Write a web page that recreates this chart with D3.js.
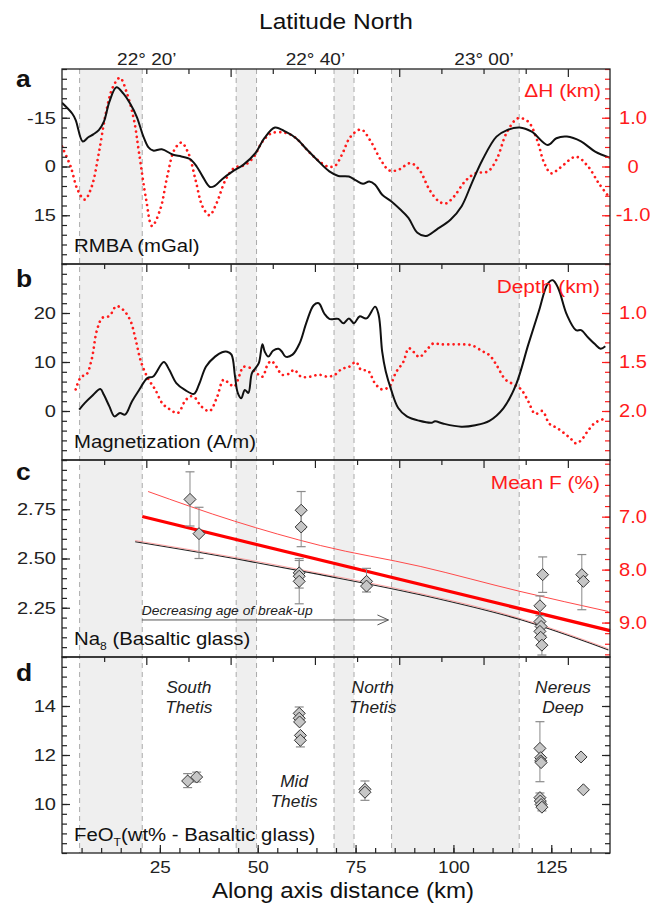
<!DOCTYPE html>
<html>
<head>
<meta charset="utf-8">
<script src="https://cdn.jsdelivr.net/npm/d3@7"></script>
<style>
  body { margin: 0; background: #fff; }
  svg { display: block; font-family: "Liberation Sans", Arial, sans-serif; }
</style>
</head>
<body>
<svg id="chart" width="654" height="905"></svg>
<script>
// ---- data ----
// grey segments along axis (km)
var bandStart = [4.5, 44.5, 69.5, 84.2];
var bandEnd   = [20.5, 49.7, 74.6, 116.8];

// panel a : RMBA (mGal) and dH (km)
var rmbaKm  = [0, 2.6, 3.5, 5.3, 6.7, 8.0, 9.4, 10.7, 12.1, 13.9, 15.7, 17.4, 19.1, 20.8, 22.1, 23.3, 25.5, 28.4, 30.5, 32.7, 34.4, 35.8, 37.8, 39.1, 40.9, 43.6, 46.3, 49.4, 51.7, 54.4, 57.1, 59.8, 62.5, 65.2, 68.3, 70.6, 73.3, 75.1, 76.9, 78.5, 80.0, 81.8, 84.1, 86.3, 88.5, 90.8, 93.0, 95.7, 99.3, 102.1, 104.7, 107.4, 111.0, 113.7, 116.9, 120.0, 124.1, 126.3, 129.0, 132.6, 136.2, 140];
var rmbaVal = [-19.6, -16.3, -14.3, -7.7, -9.0, -9.9, -11.2, -13.8, -19.9, -24.4, -22.4, -19.4, -15.3, -9.2, -5.9, -4.9, -5.3, -3.6, -3.1, -2.3, 0, 2.8, 6.3, 5.9, 3.9, 1.5, -0.5, -4.1, -8.7, -12.0, -10.7, -8.7, -5.3, -2.0, 1.5, 2.9, 3.1, 4.3, 5.3, 4.6, 5.6, 8.7, 10.7, 13.1, 15.8, 20.4, 21.4, 19.4, 16.3, 12.2, 5.1, -2.0, -9.2, -11.2, -12.0, -10.7, -6.6, -8.7, -9.2, -7.7, -4.6, -2.7];
var dhKm  = [0, 2.2, 4.0, 5.8, 7.6, 9.4, 11.2, 13.0, 14.8, 16.6, 18.4, 19.7, 21.5, 23.0, 25.1, 26.9, 28.7, 30.5, 32.3, 34.1, 35.9, 37.7, 39.5, 41.8, 44.0, 46.7, 49.0, 51.2, 53.5, 57.1, 59.8, 62.5, 65.2, 67.9, 69.7, 71.5, 73.7, 76.4, 78.7, 81.4, 83.6, 85.9, 89.0, 91.3, 93.9, 96.2, 98.0, 100.2, 102.9, 105.6, 108.8, 111.0, 113.7, 116.5, 119.1, 121.4, 123.2, 125.0, 127.2, 131.3, 134.4, 137.1, 139.6];
var dhVal = [0.41, 0, -0.48, -0.68, -0.41, 0.27, 1.09, 1.63, 1.82, 1.50, 0.95, 0.27, -0.68, -1.22, -0.88, -0.20, 0.34, 0.49, 0.27, -0.27, -0.82, -1.0, -0.75, -0.27, -0.03, 0.03, 0.20, 0.51, 0.68, 0.69, 0.58, 0.35, 0.14, 0, 0.01, 0.24, 0.61, 0.76, 0.54, 0.14, -0.08, -0.07, 0.07, -0.07, -0.48, -0.71, -0.76, -0.61, -0.31, -0.14, -0.10, 0.14, 0.71, 0.99, 0.92, 0.54, 0.07, -0.14, -0.03, 0.20, 0, -0.34, -0.61];

// panel b : magnetization (A/m) and depth (km)
var magKm  = [4.4, 5.8, 7.6, 9.8, 10.7, 12.1, 13.4, 14.8, 16.1, 17.9, 19.7, 21.8, 23.3, 26.0, 27.4, 29.2, 31.4, 33.7, 35.0, 36.8, 39.1, 40.9, 42.2, 43.3, 44.2, 44.9, 45.8, 46.7, 47.6, 48.5, 49.4, 50.3, 51.2, 51.8, 52.7, 53.9, 55.3, 56.2, 57.1, 58.9, 60.7, 62.5, 64.3, 65.6, 67.0, 68.3, 70.6, 71.9, 73.3, 74.6, 76.0, 77.8, 80.0, 80.9, 81.8, 82.7, 84.1, 85.9, 88.1, 91.3, 94.4, 95.3, 97.5, 102.0, 105.6, 109.2, 112.8, 116.0, 119.1, 121.8, 124.1, 125.4, 126.8, 129.0, 131.3, 132.6, 134.4, 136.2, 137.6, 138.8];
var magVal = [0.3, 1.6, 3.0, 4.5, 3.3, 0.95, -1.1, -0.4, -0.75, 2.0, 4.3, 6.7, 7.05, 10.0, 8.4, 5.7, 4.3, 3.5, 5.4, 9.1, 11.1, 12.0, 12.1, 11.5, 7.05, 3.7, 2.6, 4.3, 3.7, 7.7, 8.7, 9.8, 13.6, 12.1, 11.1, 12.3, 12.7, 12.1, 11.1, 11.5, 13.8, 18.2, 21.6, 22.0, 19.9, 18.8, 18.8, 17.9, 18.9, 17.9, 19.3, 18.9, 21.3, 19.6, 12.1, 8.1, 4.3, 0.6, -1.1, -2.0, -2.4, -2.1, -2.6, -3.2, -2.9, -2.0, 0.6, 5.4, 13.5, 20.3, 26.0, 26.7, 25.0, 19.6, 16.5, 16.5, 15.0, 13.6, 12.7, 13.2];
var depthKm  = [3.5, 4.9, 6.2, 7.6, 8.9, 10.3, 12.1, 13.9, 15.7, 17.5, 18.8, 20.2, 22.0, 23.8, 25.6, 27.4, 29.6, 31.4, 32.8, 34.1, 35.5, 37.7, 39.5, 41.3, 42.7, 44.0, 45.4, 46.3, 48.1, 49.9, 51.2, 52.6, 53.5, 54.8, 56.2, 58.0, 59.3, 61.1, 63.4, 65.6, 67.9, 69.7, 71.5, 73.3, 75.1, 76.4, 78.2, 80.0, 81.8, 83.6, 85.4, 87.2, 88.6, 89.9, 91.3, 93.1, 94.9, 96.7, 99.3, 102.0, 104.7, 107.4, 109.2, 111.0, 113.3, 115.5, 117.3, 119.1, 120.9, 122.7, 124.5, 126.3, 128.1, 129.9, 131.3, 132.6, 134.4, 136.2, 138.5];
var depthVal = [1.78, 1.65, 1.63, 1.47, 1.18, 1.05, 1.03, 0.93, 0.97, 1.08, 1.27, 1.5, 1.67, 1.78, 1.92, 1.98, 2.02, 1.9, 1.85, 1.87, 1.95, 2.0, 1.87, 1.68, 1.72, 1.75, 1.63, 1.55, 1.56, 1.62, 1.65, 1.52, 1.49, 1.55, 1.63, 1.62, 1.58, 1.65, 1.65, 1.63, 1.65, 1.63, 1.57, 1.55, 1.5, 1.58, 1.59, 1.72, 1.78, 1.75, 1.6, 1.5, 1.36, 1.4, 1.45, 1.38, 1.31, 1.32, 1.32, 1.32, 1.33, 1.39, 1.43, 1.53, 1.68, 1.73, 1.78, 1.9, 2.03, 2.0, 2.13, 2.17, 2.22, 2.28, 2.33, 2.3, 2.2, 2.12, 2.08];

// panel c : Na8 samples (value, error-bar low, error-bar high; null = no bar)
var naKm  = [32.7, 35.0, 61.1, 61.1, 60.6, 60.6, 60.6, 77.8, 77.8, 122.8, 122.1, 122.1, 122.4, 122.1, 122.3, 122.6, 132.8, 133.2];
var naVal = [2.80, 2.626, 2.745, 2.66, 2.427, 2.41, 2.384, 2.384, 2.36, 2.418, 2.26, 2.18, 2.155, 2.13, 2.10, 2.06, 2.418, 2.384];
var naLo  = [2.665, 2.50, 2.65, 2.56, 2.35, null, 2.27, 2.33, null, 2.328, 2.21, null, null, null, null, 2.01, 2.24, null];
var naHi  = [2.94, 2.76, 2.84, 2.75, 2.50, null, 2.49, 2.45, null, 2.508, 2.31, null, null, null, null, 2.11, 2.52, null];
// regression of mean F on distance and its confidence envelope
var fitKm  = [20.5, 140];
var fitVal = [2.713, 2.134];
var upperKm  = [22, 44, 66, 91.5, 117, 139.6];
var upperVal = [2.84, 2.69, 2.566, 2.46, 2.333, 2.231];
var lowerKm  = [18.7, 44, 66, 91.5, 117, 139.6];
var lowerVal = [2.585, 2.50, 2.418, 2.316, 2.19, 2.036];
var arrowKm = [20.4, 83.4];
var arrowNa = 2.188;

// panel d : FeOT samples
var feKm  = [32.1, 34.4, 60.6, 60.6, 60.7, 60.9, 60.9, 77.4, 77.4, 122.1, 122.3, 122.3, 122.4, 122.1, 122.2, 122.4, 122.6, 132.6, 133.2];
var feVal = [10.94, 11.1, 13.7, 13.5, 13.35, 12.8, 12.6, 10.6, 10.48, 12.27, 11.89, 11.76, 11.69, 10.26, 10.12, 9.98, 9.87, 11.92, 10.58];
var feLo  = [10.67, 10.9, 13.45, null, null, null, 12.33, 10.15, null, 10.91, null, null, null, 10.0, null, null, 9.72, null, null];
var feHi  = [11.24, 11.3, 13.96, null, null, null, 12.85, 10.94, null, 13.36, null, null, null, 10.45, null, null, 10.05, null, null];
var regionName = [["South", "Thetis"], ["Mid", "Thetis"], ["North", "Thetis"], ["Nereus", "Deep"]];
var regionKm   = [32.4, 59.3, 79.4, 128.0];
var regionFe   = [14.53, 10.7, 14.53, 14.53];

// tick labels
var latTicks  = [1340, 1360, 1380];               // minutes after 0 deg
var latLabels = ["22\u00b0 20\u2019", "22\u00b0 40\u2019", "23\u00b0 00\u2019"];
var kmTicks = [25, 50, 75, 100, 125];

// ---- layout ----
var svg = d3.select("#chart");
var red = "#ff1a1a";
var tops = [69, 264, 460, 657], bots = [264, 460, 657, 853];

var x = d3.scaleLinear().domain([0, 140]).range([62, 610]);
var lat = d3.scaleLinear().domain([1330, 1395]).range([62, 610]);

var yA  = d3.scaleLinear().domain([-30, 30]).range([69, 264]);
var yA2 = d3.scaleLinear().domain([2, -2]).range([69, 264]);
var yB  = d3.scaleLinear().domain([30, -10]).range([264, 460]);
var yB2 = d3.scaleLinear().domain([0.5, 2.5]).range([264, 460]);
var yC  = d3.scaleLinear().domain([3, 2]).range([460, 657]);
var yC2 = d3.scaleLinear().domain([5.93, 9.65]).range([460, 657]);
var yD  = d3.scaleLinear().domain([16, 8]).range([657, 853]);

var zip = function (a, b) { return a.map(function (v, i) { return [v, b[i]]; }); };
// plain hyphen for negatives, as in the figure
var fmt = function (spec) { var f = d3.format(spec); return function (d) { return f(d).replace("\u2212", "-"); }; };

// clip paths per panel
var defs = svg.append("defs");
tops.forEach(function (t, i) {
  defs.append("clipPath").attr("id", "clip" + i)
    .append("rect").attr("x", 62).attr("y", t).attr("width", 548).attr("height", bots[i] - t);
});

// grey bands + dashed edges
svg.append("g").selectAll("rect")
  .data(zip(bandStart, bandEnd))
  .join("rect")
  .attr("x", function (d) { return x(d[0]); })
  .attr("width", function (d) { return x(d[1]) - x(d[0]); })
  .attr("y", 69).attr("height", 853 - 69)
  .attr("fill", "#efefef");
svg.append("g").selectAll("line")
  .data(bandStart.concat(bandEnd))
  .join("line")
  .attr("x1", function (d) { return x(d); }).attr("x2", function (d) { return x(d); })
  .attr("y1", 69).attr("y2", 853)
  .attr("stroke", "#aaa").attr("stroke-width", 1).attr("stroke-dasharray", "5,4");

// ---- curves ----
function curve(panel, data, ys, dotted, width) {
  var ln = d3.line().x(function (d) { return x(d[0]); }).y(function (d) { return ys(d[1]); })
    .curve(d3.curveCatmullRom.alpha(0.5));
  var p = svg.append("path").attr("clip-path", "url(#clip" + panel + ")")
    .attr("d", ln(data)).attr("fill", "none");
  if (dotted) {
    p.attr("stroke", red).attr("stroke-width", 2.7)
      .attr("stroke-linecap", "round").attr("stroke-dasharray", "0.01 5.3");
  } else {
    p.attr("stroke", "#111").attr("stroke-width", width || 2);
  }
  return p;
}
curve(0, zip(dhKm, dhVal), yA2, true);
curve(0, zip(rmbaKm, rmbaVal), yA, false);
curve(1, zip(depthKm, depthVal), yB2, true);
curve(1, zip(magKm, magVal), yB, false);

// panel c regression lines
var straight = d3.line().x(function (d) { return x(d[0]); }).y(function (d) { return yC(d[1]); });
var bent = d3.line().x(function (d) { return x(d[0]); }).y(function (d) { return yC(d[1]); }).curve(d3.curveMonotoneX);
svg.append("path").attr("d", bent(zip(upperKm, upperVal))).attr("fill", "none")
  .attr("stroke", "#ff4a4a").attr("stroke-width", 1);
svg.append("path").attr("d", bent(zip(lowerKm, lowerVal))).attr("fill", "none")
  .attr("stroke", "#222").attr("stroke-width", 1.1);
svg.append("path").attr("d", bent(zip(lowerKm, lowerVal.map(function (v) { return v + 0.006; })))).attr("fill", "none")
  .attr("stroke", "#ff6a6a").attr("stroke-width", 0.6);
svg.append("path").attr("d", straight(zip(fitKm, fitVal))).attr("fill", "none")
  .attr("stroke", "#ff0000").attr("stroke-width", 3.2);

// arrow
var ay = yC(arrowNa);
svg.append("line").attr("x1", x(arrowKm[0])).attr("x2", x(arrowKm[1])).attr("y1", ay).attr("y2", ay)
  .attr("stroke", "#555").attr("stroke-width", 1);
svg.append("path")
  .attr("d", "M" + (x(arrowKm[1]) - 11) + "," + (ay - 5) + "L" + x(arrowKm[1]) + "," + ay + "L" + (x(arrowKm[1]) - 11) + "," + (ay + 5))
  .attr("fill", "none").attr("stroke", "#555").attr("stroke-width", 1);

// ---- samples with error bars ----
function samples(km, val, lo, hi, ys) {
  var g = svg.append("g");
  km.forEach(function (k, i) {
    if (lo[i] === null) return;
    var cx = x(k);
    g.append("line").attr("x1", cx).attr("x2", cx).attr("y1", ys(lo[i])).attr("y2", ys(hi[i]))
      .attr("stroke", "#8a8a8a").attr("stroke-width", 1);
    [lo[i], hi[i]].forEach(function (v) {
      g.append("line").attr("x1", cx - 4.5).attr("x2", cx + 4.5).attr("y1", ys(v)).attr("y2", ys(v))
        .attr("stroke", "#8a8a8a").attr("stroke-width", 1.2);
    });
  });
  g.selectAll("path.pt")
    .data(zip(km, val))
    .join("path").attr("class", "pt")
    .attr("d", function (d) {
      var cx = x(d[0]), cy = ys(d[1]), r = 6;
      return "M" + cx + "," + (cy - r) + "L" + (cx + r) + "," + cy + "L" + cx + "," + (cy + r) + "L" + (cx - r) + "," + cy + "Z";
    })
    .attr("fill", "#c6c6c6").attr("stroke", "#333").attr("stroke-width", 1);
}
samples(naKm, naVal, naLo, naHi, yC);
samples(feKm, feVal, feLo, feHi, yD);

// ---- text helper (the figure's type is a little wide) ----
function label(str, px, py, o) {
  o = o || {};
  var t = svg.append("text")
    .attr("transform", "translate(" + px + "," + py + ") scale(" + (o.sx || 1.1) + ",1)")
    .attr("text-anchor", o.anchor || "start")
    .attr("font-size", o.size || 19)
    .attr("fill", o.fill || "#111");
  if (o.italic) t.attr("font-style", "italic");
  if (o.bold) t.attr("font-weight", "bold");
  if (str !== null) t.text(str);
  return t;
}

// ---- axes ----
function styleAxis(g, color) {
  g.select(".domain").remove();
  g.selectAll("line").attr("stroke", color).attr("stroke-width", 1.2);
  g.selectAll("text").attr("fill", color)
    .attr("font-family", "Liberation Sans, Arial, sans-serif");
}
function leftAxis(scale, major, minor, f) {
  var gm = svg.append("g").attr("transform", "translate(62,0)")
    .call(d3.axisLeft(scale).tickValues(minor).tickSize(-5).tickFormat(""));
  styleAxis(gm, "#222");
  var g = svg.append("g").attr("transform", "translate(62,0)")
    .call(d3.axisLeft(scale).tickValues(major).tickSize(-8).tickPadding(6).tickFormat(f));
  styleAxis(g, "#222");
  g.selectAll("text").attr("font-size", 17).attr("x", 0)
    .attr("transform", "translate(-6,0) scale(1.18,1)");
}
function rightAxis(scale, major, minor, f, color, labels) {
  var gm = svg.append("g").attr("transform", "translate(610,0)")
    .call(d3.axisRight(scale).tickValues(minor).tickSize(-5).tickFormat(""));
  styleAxis(gm, color);
  var g = svg.append("g").attr("transform", "translate(610,0)")
    .call(d3.axisRight(scale).tickValues(major).tickSize(-8).tickFormat(labels ? f : ""));
  styleAxis(g, color);
  g.selectAll("text").attr("font-size", 17.5).attr("x", 0).attr("text-anchor", "middle")
    .attr("transform", "translate(23,0) scale(1.15,1)");
}
function steps(a, b, s) { return d3.range(Math.round((b - a) / s) + 1).map(function (i) { return +(a + i * s).toFixed(3); }); }

leftAxis(yA, [-15, 0, 15], steps(-30, 30, 3), fmt("d"));
rightAxis(yA2, [-1, 0, 1], steps(-2, 2, 0.2), function (d) { return d === 0 ? "0" : fmt(".1f")(d); }, red, true);
leftAxis(yB, [0, 10, 20], steps(-10, 30, 2), fmt("d"));
rightAxis(yB2, [1, 1.5, 2], steps(0.5, 2.5, 0.1), fmt(".1f"), red, true);
leftAxis(yC, [2.25, 2.5, 2.75], steps(2, 3, 0.05), fmt(".2f"));
rightAxis(yC2, [7, 8, 9], steps(6, 9.6, 0.2), fmt(".1f"), red, true);
leftAxis(yD, [10, 12, 14], steps(8, 16, 0.4), fmt("d"));
rightAxis(yD, [10, 12, 14], steps(8, 16, 0.4), fmt("d"), "#222", false);

// latitude ticks on top and on each panel border
var latMinor = steps(1335, 1390, 5);
tops.forEach(function (t, i) {
  var minor = latMinor.filter(function (m) { return i === 0 ? m >= 1340 : true; });
  var g = svg.append("g").attr("transform", "translate(0," + t + ")")
    .call(d3.axisTop(lat).tickValues(minor).tickFormat("")
      .tickSizeInner(0).tickSizeOuter(0));
  g.selectAll(".tick line").attr("y2", function (d) {
    if (i === 0) return (d - 1330) % 20 === 0 ? 8 : 5;
    return d % 10 === 0 ? 8 : 5;
  });
  styleAxis(g, "#222");
});
var gTop = svg.append("g").attr("transform", "translate(0,69)")
  .call(d3.axisTop(lat).tickValues(latTicks).tickSize(0).tickPadding(4)
    .tickFormat(function (d, i) { return latLabels[i]; }));
styleAxis(gTop, "#222");
gTop.selectAll("text").attr("font-size", 17).attr("y", 0)
  .attr("transform", "translate(0,-4) scale(1.12,1)");

// km ticks at the bottom
var gMinor = svg.append("g").attr("transform", "translate(0,853)")
  .call(d3.axisBottom(x).tickValues(steps(5, 135, 5)).tickSize(-5).tickFormat(""));
styleAxis(gMinor, "#222");
var gBot = svg.append("g").attr("transform", "translate(0,853)")
  .call(d3.axisBottom(x).tickValues(kmTicks).tickSize(-8).tickPadding(7).tickFormat(fmt("d")));
styleAxis(gBot, "#222");
gBot.selectAll("text").attr("font-size", 17).attr("y", 0)
  .attr("transform", "translate(0,8) scale(1.12,1)");

// panel frames
tops.forEach(function (t, i) {
  svg.append("rect").attr("x", 62).attr("y", t).attr("width", 548).attr("height", bots[i] - t)
    .attr("fill", "none").attr("stroke", "#222").attr("stroke-width", 1.3);
});

// ---- titles and labels ----
label("Latitude North", 336, 29, { size: 21.5, anchor: "middle", sx: 1.14 });
label("Along axis distance (km)", 343, 898, { size: 21.5, anchor: "middle", sx: 1.12 });

["a", "b", "c", "d"].forEach(function (s, i) {
  label(s, 16, [87, 287, 480, 681][i], { size: 23, bold: true, sx: 1.15 });
});

label("RMBA (mGal)", 74, 252, { size: 18.5 });
label("Magnetization (A/m)", 74, 448, { size: 18.5 });
var na = label(null, 74, 645, { size: 18.5 });
na.append("tspan").text("Na");
na.append("tspan").attr("font-size", 11).attr("dy", 5).text("8");
na.append("tspan").attr("dy", -5).text(" (Basaltic glass)");
var fe = label(null, 74, 841, { size: 18.5 });
fe.append("tspan").text("FeO");
fe.append("tspan").attr("font-size", 11).attr("dy", 5).text("T");
fe.append("tspan").attr("dy", -5).text("(wt% - Basaltic glass)");

label("\u0394H (km)", 601, 97, { size: 19, anchor: "end", fill: red });
label("Depth  (km)", 600, 293, { size: 19, anchor: "end", fill: red });
label("Mean F (%)", 600, 489, { size: 19, anchor: "end", fill: red });

label("Decreasing age of break-up", x(arrowKm[0]), ay - 5, { size: 13.2, italic: true, sx: 1.05, fill: "#222" });

regionName.forEach(function (n, i) {
  var cx = x(regionKm[i]), cy = yD(regionFe[i]);
  label(n[0], cx, cy, { size: 16.5, italic: true, anchor: "middle", sx: 1.05, fill: "#222" });
  label(n[1], cx, cy + 20, { size: 16.5, italic: true, anchor: "middle", sx: 1.05, fill: "#222" });
});
</script>
</body>
</html>
